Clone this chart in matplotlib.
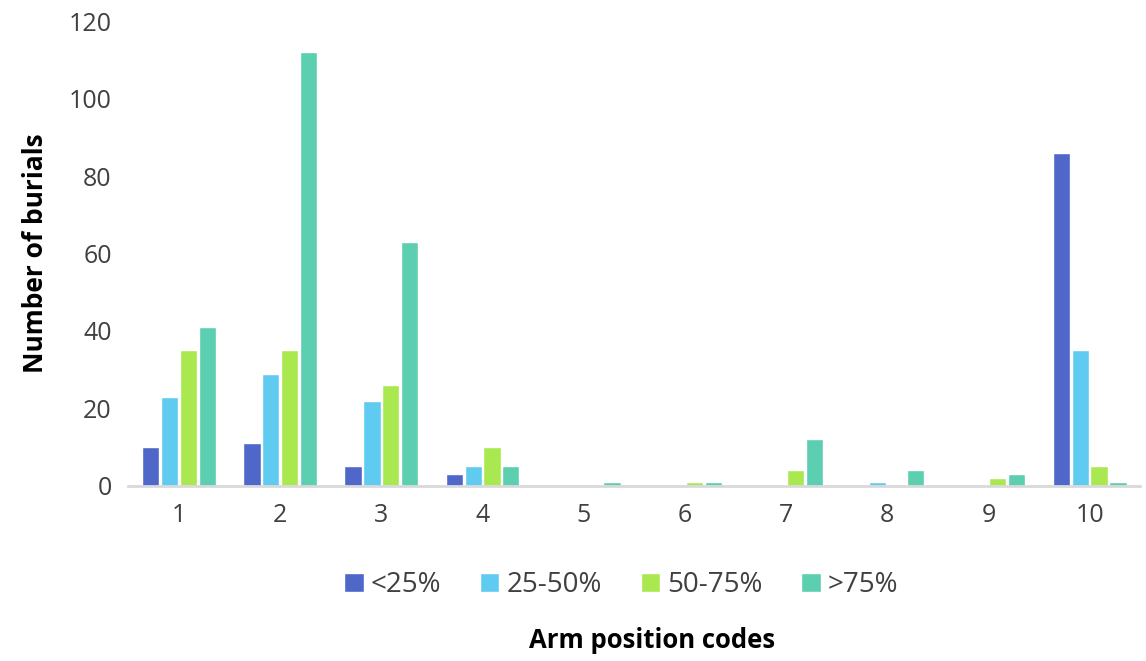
import numpy as np
import matplotlib.pyplot as plt

plt.rcParams['font.family'] = ['Open Sans', 'DejaVu Sans']

codes = ['1', '2', '3', '4', '5', '6', '7', '8', '9', '10']
series = ['<25%', '25-50%', '50-75%', '>75%']
lt25 = [10, 11, 5, 3, 0, 0, 0, 0, 0, 86]
p25_50 = [23, 29, 22, 5, 0, 0, 0, 1, 0, 35]
p50_75 = [35, 35, 26, 10, 0, 1, 4, 0, 2, 5]
gt75 = [41, 112, 63, 5, 1, 1, 12, 4, 3, 1]
colors = ['#4F67C8', '#5FCBF0', '#A9E84E', '#5CCFB0']

fig = plt.figure(figsize=(11.46, 6.61), dpi=100)
ax = fig.add_axes([0.112, 0.265, 0.883, 0.703])

x = np.arange(len(codes))
step = 0.186
for i, (vals, name) in enumerate(zip([lt25, p25_50, p50_75, gt75], series)):
    ax.bar(x + (i - 1.5) * step, vals, width=0.17, color=colors[i],
           edgecolor='white', linewidth=1, label=name)

ax.set_xlim(-0.5, len(codes) - 0.5)
ax.set_ylim(0, 120)
ax.set_yticks(range(0, 121, 20))
ax.set_xticks(x)
ax.set_xticklabels(codes)
ax.tick_params(length=0, labelsize=18, colors='#404040', pad=12)
for s in ['top', 'right', 'left']:
    ax.spines[s].set_visible(False)
ax.spines['bottom'].set_color('#D9D9D9')
ax.spines['bottom'].set_linewidth(2)

ax.set_ylabel('Number of burials', fontsize=19, fontweight='bold', labelpad=14)
fig.text(0.569, 0.02, 'Arm position codes', fontsize=18.5, fontweight='bold', ha='center')
fig.legend(loc='center', bbox_to_anchor=(0.542, 0.115), ncol=4, frameon=False,
           fontsize=20, handlelength=0.7, handleheight=0.7, handletextpad=0.25,
           columnspacing=1.4, labelcolor='#404040')

fig.savefig('out.png', dpi=100)
